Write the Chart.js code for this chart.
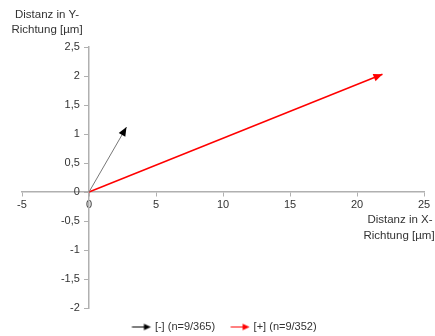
<!DOCTYPE html>
<html>
<head>
<meta charset="utf-8">
<script src="https://cdn.jsdelivr.net/npm/chart.js@4/dist/chart.umd.min.js"></script>
<style>
  html, body { margin: 0; padding: 0; background: #fff; }
  #wrap { width: 435px; height: 336px; }
</style>
</head>
<body>
<div id="wrap"><canvas id="myChart"></canvas></div>
<script>
// vectors, all starting at the origin
const seriesLabels = ['[-] (n=9/365)', '[+] (n=9/352)'];
const startX = [0, 0];
const startY = [0, 0];
const endX = [2.8, 21.9];
const endY = [1.12, 2.03];
const xTicks = [-5, 0, 5, 10, 15, 20, 25];
const yTicks = [-2, -1.5, -1, -0.5, 0, 0.5, 1, 1.5, 2, 2.5];
const xTitle = ['Distanz in X-', 'Richtung [µm]'];
const yTitle = ['Distanz in Y-', 'Richtung [µm]'];

const lineColors = ['#777777', '#ff0000'];
const headColors = ['#000000', '#ff0000'];
const textColor = '#333333';
const axisColor = '#b0b0b0';
const font = { family: 'Liberation Sans, Arial, sans-serif', size: 11 };

Chart.defaults.font.family = font.family;
Chart.defaults.font.size = font.size;
Chart.defaults.color = textColor;

// legend icon: arrow, shifted right so it hugs the label text
function arrowIcon(lineCol, headCol) {
  const c = document.createElement('canvas');
  c.width = 28; c.height = 10;
  const g = c.getContext('2d');
  g.strokeStyle = lineCol; g.lineWidth = 1;
  g.beginPath(); g.moveTo(6.5, 5.5); g.lineTo(20, 5.5); g.stroke();
  g.fillStyle = headCol;
  g.beginPath(); g.moveTo(25.5, 5.5); g.lineTo(18.5, 2.2); g.lineTo(18.5, 8.8); g.closePath(); g.fill();
  return c;
}

const fmt = v => String(v).replace('.', ',');

const datasets = seriesLabels.map((lab, i) => ({
  label: lab,
  data: [{ x: startX[i], y: startY[i] }, { x: endX[i], y: endY[i] }],
  showLine: true,
  borderColor: lineColors[i],
  borderWidth: i === 1 ? 1.5 : 1,
  pointRadius: 0,
  pointStyle: arrowIcon(i === 1 ? '#ff0000' : '#000000', headColors[i])
}));

const arrowHeads = {
  id: 'arrowHeads',
  afterDatasetsDraw(chart) {
    const ctx = chart.ctx;
    chart.data.datasets.forEach((ds, i) => {
      const pts = chart.getDatasetMeta(i).data;
      const a = pts[pts.length - 2], b = pts[pts.length - 1];
      const ang = Math.atan2(b.y - a.y, b.x - a.x);
      ctx.save();
      ctx.translate(b.x, b.y);
      ctx.rotate(ang);
      ctx.fillStyle = headColors[i];
      ctx.beginPath();
      ctx.moveTo(0, 0);
      ctx.lineTo(-9, -3.8);
      ctx.lineTo(-9, 3.8);
      ctx.closePath();
      ctx.fill();
      ctx.restore();
    });
  }
};

const axisTitles = {
  id: 'axisTitles',
  afterDraw(chart) {
    const ctx = chart.ctx;
    const ys = chart.scales.y;
    ctx.save();
    ctx.font = '11.5px ' + font.family;
    ctx.fillStyle = textColor;
    ctx.textBaseline = 'middle';
    ctx.textAlign = 'center';
    const ty = ys.getPixelForValue(2.5);
    ctx.fillText(yTitle[0], 47, ty - 32);
    ctx.fillText(yTitle[1], 47, ty - 17);
    const ry = ys.getPixelForValue(0);
    ctx.fillText(xTitle[0], 400, ry + 28);
    ctx.fillText(xTitle[1], 399, ry + 44);
    ctx.restore();
  }
};

new Chart(document.getElementById('myChart'), {
  type: 'scatter',
  data: { datasets: datasets },
  options: {
    responsive: true,
    maintainAspectRatio: false,
    animation: false,
    layout: { padding: { left: 22, right: 11, top: 47, bottom: -6 } },
    scales: {
      x: {
        type: 'linear',
        position: { y: 0 },
        min: xTicks[0],
        max: xTicks[xTicks.length - 1],
        afterBuildTicks: s => { s.ticks = xTicks.map(v => ({ value: v })); },
        afterFit: s => { s.height = 0; },
        grid: { display: true, drawOnChartArea: false, drawTicks: true, tickLength: 4, color: axisColor },
        border: { display: true, color: axisColor, width: 1.5 },
        ticks: { padding: 2, maxRotation: 0, autoSkip: false, color: textColor, callback: v => fmt(v) }
      },
      y: {
        type: 'linear',
        position: { x: 0 },
        min: yTicks[0],
        max: yTicks[yTicks.length - 1],
        afterBuildTicks: s => { s.ticks = yTicks.map(v => ({ value: v })); },
        afterFit: s => { s.width = 0; },
        grid: { display: true, drawOnChartArea: false, drawTicks: true, tickLength: 4, color: axisColor },
        border: { display: true, color: axisColor, width: 1.5 },
        // centred axes get no label padding, so keep a gap with trailing spaces
        ticks: { autoSkip: false, color: textColor, callback: v => fmt(v) + '   ' }
      }
    },
    plugins: {
      legend: {
        position: 'bottom',
        labels: {
          usePointStyle: true,
          pointStyleWidth: 20,
          padding: 13,
          color: textColor,
          font: { size: 11 }
        }
      },
      tooltip: { enabled: false }
    }
  },
  plugins: [arrowHeads, axisTitles]
});
</script>
</body>
</html>
